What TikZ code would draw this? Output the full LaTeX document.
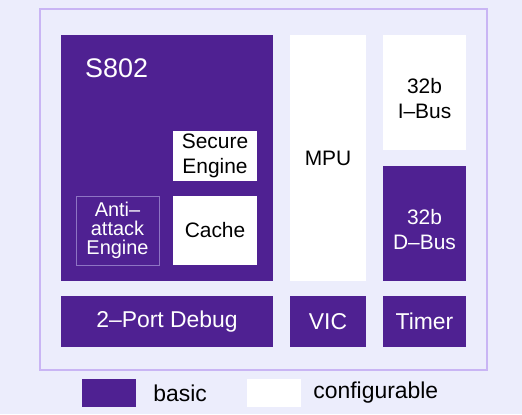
\documentclass[tikz,border=0pt]{standalone}
\usepackage{fontspec}
\setmainfont{Liberation Sans}
\usetikzlibrary{positioning}
\definecolor{bgcol}{HTML}{ECEDFC}
\definecolor{framecol}{HTML}{C9B5F4}
\definecolor{basiccol}{HTML}{4F2192}
\definecolor{edgecol}{HTML}{8E74C4}
\tikzset{
  blk/.style={inner sep=0pt, align=center, font=\fontsize{21}{25}\selectfont},
  basic/.style={blk, fill=basiccol, text=white},
  config/.style={blk, fill=white, text=black},
  rowtext/.style={font=\fontsize{23}{26}\selectfont},
  keytext/.style={inner sep=0pt, anchor=west, font=\fontsize{23}{26}\selectfont},
}
\begin{document}
\begin{tikzpicture}[x=1bp,y=-1bp]
\fill[bgcol] (0,0) rectangle (522,414);
\useasboundingbox (0,0) rectangle (522,414);
\draw[framecol, line width=1.5bp] (40,9) rectangle (487,370);
%
\node[basic, minimum width=212bp, minimum height=246bp] (s802) at (167,158) {};
\node[anchor=base west, inner sep=0pt, text=white, font=\fontsize{27}{30}\selectfont] (title) at (85,77) {S802};
\node[config, minimum width=84bp, minimum height=50bp] (secure) at (215,156) {Secure\\Engine};
\node[config, minimum width=84bp, minimum height=69bp] (cache) at (215,230.5) {Cache};
\node[basic, draw=edgecol, line width=1bp, minimum width=83bp, minimum height=69bp,
  font=\fontsize{20}{19}\selectfont] (anti) at (117.5,230.5) {Anti--\\attack\\Engine};
%
\node[config, minimum width=76bp, minimum height=246bp] (mpu) at (328,158) {MPU};
\node[config, minimum width=83bp, minimum height=115bp] (ibus) at (424.5,92.5) {};
\node[blk] (ibustext) at ([yshift=-6bp]ibus.center) {32b\\I--Bus};
\node[basic, minimum width=83bp, minimum height=115bp] (dbus) at (424.5,223.5) {};
\node[blk, text=white] (dbustext) at ([yshift=-6bp]dbus.center) {32b\\D--Bus};
%
\node[basic, rowtext, minimum width=212bp, minimum height=51bp] (debug) at (167,321.5) {2--Port Debug};
\node[basic, rowtext, minimum width=76bp, minimum height=51bp] (vic) at (328,321.5) {VIC};
\node[basic, rowtext, minimum width=83bp, minimum height=51bp] (timer) at (424.5,321.5) {Timer};
%
\node[basic, minimum width=54bp, minimum height=28bp] (keybasic) at (109,393) {};
\node[keytext, right=17bp of keybasic] (lblbasic) {basic};
\node[config, minimum width=54bp, minimum height=28bp] (keyconfig) at (274,393) {};
\node[keytext, right=12bp of keyconfig] (lblconfig) {configurable};
\end{tikzpicture}
\end{document}
